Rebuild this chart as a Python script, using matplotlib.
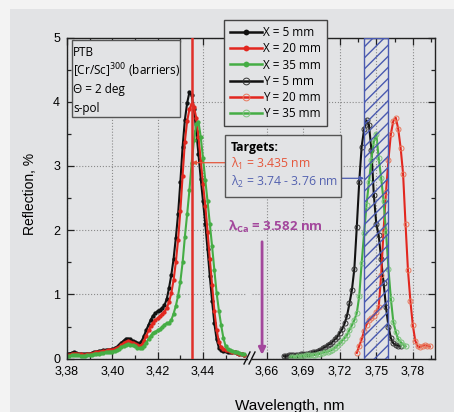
import numpy as np
import matplotlib
matplotlib.use("Agg")
import matplotlib.pyplot as plt
from matplotlib.patches import Rectangle
from matplotlib.lines import Line2D

plt.rcParams['font.family'] = ['Liberation Sans', 'DejaVu Sans']

BG = '#e2e3e5'
BLACK = '#111111'
RED = '#e2271f'
GREEN = '#45ad45'
BLUE = '#4a5ab0'
PURPLE = '#a3479c'
TXT_FONT = ['Open Sans', 'DejaVu Sans']

# --- X scans (filled markers), 1 pm step from 3.380 nm ---
wl_x = np.round(np.arange(3.380, 3.4585, 0.001), 3)
refl_x5 = [0.07, 0.08, 0.09, 0.10, 0.09, 0.08, 0.08, 0.07, 0.07, 0.08,
           0.08, 0.09, 0.10, 0.11, 0.12, 0.12, 0.13, 0.13, 0.14, 0.14,
           0.15, 0.16, 0.18, 0.21, 0.25, 0.28, 0.31, 0.31, 0.30, 0.28,
           0.26, 0.24, 0.24, 0.28, 0.36, 0.45, 0.53, 0.61, 0.67, 0.71,
           0.74, 0.76, 0.79, 0.83, 0.93, 1.10, 1.30, 1.55, 1.88, 2.25,
           2.75, 3.30, 3.72, 3.98, 4.15, 4.10, 3.88, 3.55, 3.18, 2.80,
           2.45, 2.10, 1.70, 1.28, 0.90, 0.55, 0.30, 0.17, 0.13, 0.12,
           0.12, 0.11, 0.11, 0.10, 0.10, 0.09, 0.08, 0.07, 0.06]
refl_x20 = [0.05, 0.06, 0.07, 0.08, 0.08, 0.07, 0.07, 0.06, 0.06, 0.07,
            0.07, 0.08, 0.09, 0.10, 0.11, 0.11, 0.12, 0.12, 0.13, 0.13,
            0.14, 0.15, 0.16, 0.18, 0.21, 0.24, 0.26, 0.27, 0.26, 0.25,
            0.23, 0.21, 0.20, 0.22, 0.28, 0.36, 0.44, 0.51, 0.56, 0.60,
            0.63, 0.66, 0.69, 0.73, 0.79, 0.88, 1.02, 1.22, 1.50, 1.85,
            2.30, 2.85, 3.38, 3.70, 3.88, 3.97, 3.92, 3.75, 3.45, 3.08,
            2.72, 2.38, 1.98, 1.55, 1.15, 0.75, 0.45, 0.26, 0.18, 0.15,
            0.14, 0.13, 0.12, 0.11, 0.10, 0.09, 0.08, 0.07, 0.06]
refl_x35 = [0.04, 0.04, 0.05, 0.05, 0.05, 0.05, 0.04, 0.04, 0.04, 0.05,
            0.05, 0.06, 0.07, 0.08, 0.08, 0.09, 0.09, 0.10, 0.10, 0.11,
            0.11, 0.12, 0.13, 0.15, 0.18, 0.20, 0.22, 0.23, 0.22, 0.21,
            0.19, 0.17, 0.16, 0.17, 0.20, 0.25, 0.31, 0.36, 0.40, 0.42,
            0.44, 0.46, 0.49, 0.53, 0.55, 0.56, 0.60, 0.70, 0.82, 0.98,
            1.20, 1.50, 1.90, 2.25, 2.62, 3.05, 3.40, 3.66, 3.69, 3.45,
            3.12, 2.78, 2.45, 2.10, 1.75, 1.38, 1.02, 0.75, 0.52, 0.32,
            0.19, 0.15, 0.13, 0.12, 0.11, 0.10, 0.09, 0.08, 0.07]

# --- Y scans (open markers), 2 pm step ---
wl_y5 = np.round(np.arange(3.674, 3.7705, 0.002), 3)
refl_y5 = [0.04, 0.04, 0.05, 0.05, 0.05, 0.06, 0.06, 0.07, 0.07, 0.08,
           0.08, 0.09, 0.10, 0.11, 0.12, 0.14, 0.16, 0.18, 0.21, 0.23,
           0.26, 0.30, 0.34, 0.40, 0.46, 0.55, 0.67, 0.86, 1.07, 1.40,
           2.05, 2.75, 3.30, 3.57, 3.71, 3.64, 3.25, 2.55, 2.10, 1.92,
           1.55, 1.18, 0.80, 0.50, 0.32, 0.24, 0.21, 0.20, 0.20]
wl_y20 = np.round(np.arange(3.734, 3.7945, 0.002), 3)
refl_y20 = [0.09, 0.20, 0.30, 0.43, 0.53, 0.60, 0.63, 0.67, 0.72, 0.80,
            1.30, 2.00, 2.60, 3.10, 3.50, 3.70, 3.75, 3.58, 3.28, 2.88,
            2.10, 1.38, 0.90, 0.52, 0.28, 0.19, 0.18, 0.20, 0.21, 0.20,
            0.19]
wl_y35 = np.round(np.arange(3.680, 3.7745, 0.002), 3)
refl_y35 = [0.03, 0.03, 0.03, 0.04, 0.04, 0.04, 0.05, 0.05, 0.05, 0.06,
            0.06, 0.07, 0.08, 0.09, 0.10, 0.11, 0.12, 0.14, 0.17, 0.20,
            0.24, 0.28, 0.32, 0.37, 0.45, 0.52, 0.60, 0.71, 0.97, 1.49,
            1.95, 2.40, 2.75, 3.10, 3.38, 3.50, 3.12, 2.82, 2.45, 1.97,
            1.40, 0.93, 0.57, 0.42, 0.30, 0.26, 0.22, 0.19]

target_1 = 3.435
target_2 = (3.74, 3.76)

ticks_left = [3.38, 3.40, 3.42, 3.44]
ticks_right = [3.66, 3.69, 3.72, 3.75, 3.78]
minor_left = [3.39, 3.41, 3.43, 3.45]
minor_right = [3.675, 3.705, 3.735, 3.765, 3.795]
y_ticks = [0, 1, 2, 3, 4, 5]

W, H = 454, 412
fig = plt.figure(figsize=(W / 100, H / 100), dpi=100, facecolor=BG)
# light border strips along the top and left edge
fig.add_artist(Rectangle((0, 1 - 9 / H), 1, 9 / H, transform=fig.transFigure, fc='#f3f3f3', ec='none', zorder=0))
fig.add_artist(Rectangle((0, 0), 10 / W, 1, transform=fig.transFigure, fc='#f3f3f3', ec='none', zorder=0))

y0, h = 53.3 / H, 321.2 / H
ax1 = fig.add_axes([67 / W, y0, 180 / W, h], facecolor=BG)
ax2 = fig.add_axes([252 / W, y0, 183 / W, h], facecolor=BG, sharey=ax1)

mk = dict(marker='o', lw=1.5)
l1, = ax1.plot(wl_x, refl_x5, color=BLACK, ms=3.1, mew=0, label='X = 5 mm', **mk)
l2, = ax1.plot(wl_x, refl_x20, color=RED, ms=3.1, mew=0, label='X = 20 mm', **mk)
l3, = ax1.plot(wl_x, refl_x35, color=GREEN, ms=3.1, mew=0, label='X = 35 mm', **mk)
l4, = ax2.plot(wl_y5, refl_y5, color=BLACK, mec='#333333', mfc='none', ms=3.6, mew=0.7, label='Y = 5 mm', **mk)
l5, = ax2.plot(wl_y20, refl_y20, color=RED, mec='#e8785c', mfc='none', ms=3.6, mew=0.7, label='Y = 20 mm', **mk)
l6, = ax2.plot(wl_y35, refl_y35, color=GREEN, mec='#7cc47c', mfc='none', ms=3.6, mew=0.7, label='Y = 35 mm', **mk)

ax1.axvline(target_1, color='#e0302a', lw=1.8, zorder=5)
ax2.axvspan(target_2[0], target_2[1], fc='none', ec=BLUE, hatch='///', lw=1, zorder=5)

ax1.set_xlim(3.38, 3.4594)
ax2.set_xlim(3.648, 3.7982)
ax1.set_ylim(0, 5)
ax1.set_xticks(ticks_left)
ax1.set_xticklabels([f'{t:.2f}'.replace('.', ',') for t in ticks_left])
ax1.set_xticks(minor_left, minor=True)
ax2.set_xticks(ticks_right)
ax2.set_xticklabels([f'{t:.2f}'.replace('.', ',') for t in ticks_right])
ax2.set_xticks(minor_right, minor=True)
ax1.set_yticks(y_ticks)
ax1.set_yticks(np.arange(0.5, 5, 1.0), minor=True)

for ax in (ax1, ax2):
    ax.grid(True, which='major', ls=':', color='#8a8a8a', lw=0.8)
    ax.set_axisbelow(True)
    ax.tick_params(which='both', direction='in', top=True, labelsize=9, color='#222222', width=0.9)
    ax.tick_params(which='major', length=5, pad=5)
    ax.tick_params(which='minor', length=3)
    for s in ax.spines.values():
        s.set_color('#222222')
        s.set_linewidth(1.0)
ax1.spines['right'].set_visible(False)
ax1.tick_params(right=False)
ax2.spines['left'].set_visible(False)
ax2.tick_params(which='both', left=False, right=True, labelleft=False)

# axis break marks
for xb in (247, 252):
    fig.add_artist(Line2D([(xb - 3) / W, (xb + 3) / W], [1 - 364 / H, 1 - 352 / H],
                          transform=fig.transFigure, color=BLACK, lw=1.0))

fig.text(30 / W, 1 - 194 / H, 'Reflection, %', rotation=90, ha='center', va='center', fontsize=10)
fig.text(290 / W, 1 - 399 / H, 'Wavelength, nm', ha='center', va='top', fontsize=11)

# sample info box
fig.add_artist(Rectangle((72 / W, 1 - 117 / H), 108 / W, 77 / H, transform=fig.transFigure,
                         fc=BG, ec='#555555', lw=1, zorder=4))
info = ['PTB', '[Cr/Sc]$^{300}$ (barriers)', 'Θ = 2 deg', 's-pol']
for txt, yy in zip(info, [52, 71, 90, 108.5]):
    fig.text(73 / W, 1 - yy / H, txt, ha='left', va='center', fontsize=8.5, family=TXT_FONT, zorder=6)

leg = fig.legend(handles=[l1, l2, l3, l4, l5, l6], loc='upper left', bbox_to_anchor=(224 / W, 1 - 20 / H),
                 frameon=True, fancybox=False, edgecolor='#444444', facecolor=BG, framealpha=1,
                 prop={'family': TXT_FONT, 'size': 8.5}, handlelength=2.7, handletextpad=0.1,
                 labelspacing=0.28, borderpad=0.5, borderaxespad=0, markerscale=1.35)
leg.get_frame().set_linewidth(1.0)
for lh in leg.get_lines():
    lh.set_linewidth(1.8)

# targets box
fig.add_artist(Rectangle((225 / W, 1 - 197 / H), 116 / W, 62 / H, transform=fig.transFigure,
                         fc=BG, ec='#555555', lw=1, zorder=4))
fig.text(231 / W, 1 - 148 / H, 'Targets:', ha='left', va='center', fontsize=8.8, weight='bold',
         family=TXT_FONT, zorder=6)
fig.text(231 / W, 1 - 163.5 / H, r'λ$_\mathregular{1}$ = 3.435 nm', ha='left', va='center', fontsize=8.8,
         color='#e5573c', family=TXT_FONT, zorder=6)
fig.text(231 / W, 1 - 181.5 / H, r'λ$_\mathregular{2}$ = 3.74 - 3.76 nm', ha='left', va='center', fontsize=8.8,
         color='#5462b0', family=TXT_FONT, zorder=6)

ax1.annotate('', xy=(target_1, 1 - 162.7 / H), xycoords=('data', 'figure fraction'),
             xytext=(225 / W, 1 - 162.7 / H), textcoords='figure fraction',
             arrowprops=dict(arrowstyle='-|>', color='#e5573c', lw=0.9, mutation_scale=6, shrinkA=0, shrinkB=0))
ax2.annotate('', xy=(target_2[0], 1 - 178.3 / H), xycoords=('data', 'figure fraction'),
             xytext=(341 / W, 1 - 178.3 / H), textcoords='figure fraction',
             arrowprops=dict(arrowstyle='-|>', color=BLUE, lw=0.9, mutation_scale=6, shrinkA=0, shrinkB=0))

# Ca absorption edge falls inside the axis break
fig.text(228 / W, 1 - 226.7 / H, r'λ$_\mathregular{Ca}$ = 3.582 nm', ha='left', va='center', fontsize=9.5,
         weight='bold', color=PURPLE, family=TXT_FONT)
ax2.annotate('', xy=(0.055, 0.06), xycoords=('axes fraction', 'data'),
             xytext=(0.055, 1.82), textcoords=('axes fraction', 'data'),
             arrowprops=dict(arrowstyle='-|>', color=PURPLE, lw=2, mutation_scale=10, shrinkA=0, shrinkB=0))

fig.savefig('out.png', dpi=100, facecolor=BG)
